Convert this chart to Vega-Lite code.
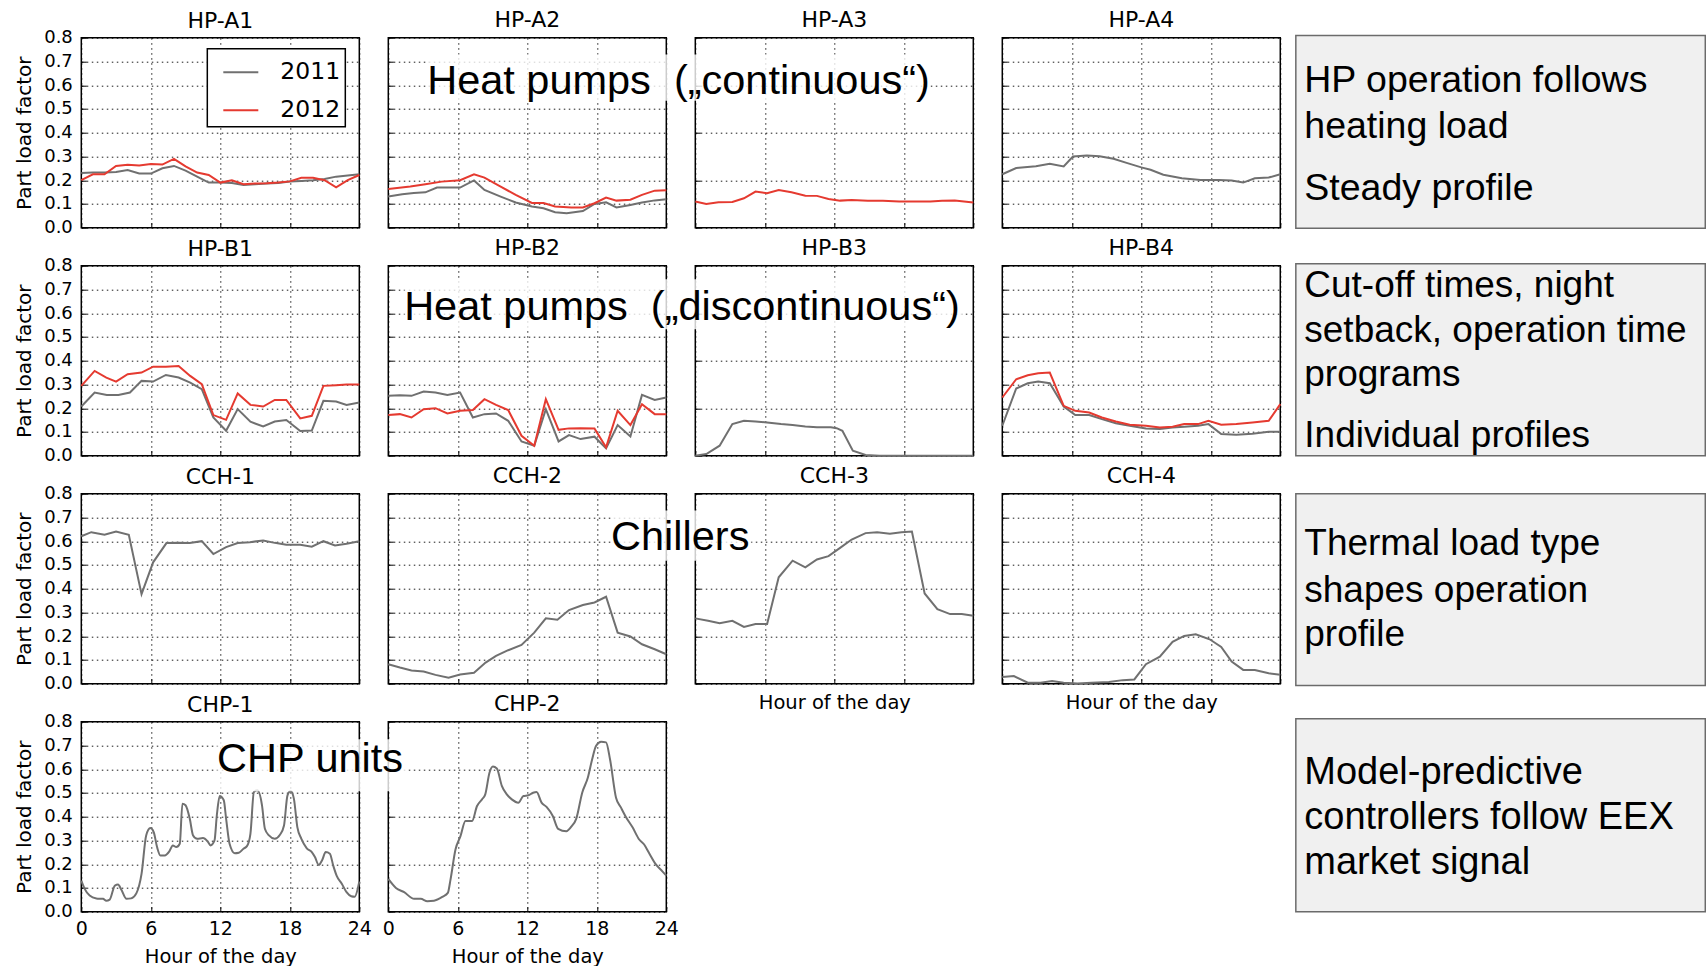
{
"$schema": "https://vega.github.io/schema/vega-lite/v6.json",
"padding": {"left": 13.3, "top": 7.7, "right": 0, "bottom": 0},
"columns": 5,
"spacing": {"row": 38, "column": 29},
"bounds": "flush",
"align": "each",
"config": {
  "font": "DejaVu Sans",
  "view": {"stroke": "#000000", "strokeWidth": 1.5},
  "axis": {"grid": true, "gridColor": "#000000", "gridDash": [1.5, 3.5], "gridWidth": 1, "gridOpacity": 0.9, "domain": false, "ticks": true, "tickSize": -5, "tickColor": "#000000", "tickWidth": 1, "labelFont": "DejaVu Sans", "labelFontSize": 18, "labelColor": "#000000", "labelOverlap": false, "labelFlush": false, "titleFont": "DejaVu Sans", "titleFontSize": 20, "titleFontWeight": "normal", "titleColor": "#000000"},
  "axisX": {"labelPadding": 13, "titlePadding": 9, "labelFontSize": 19, "titleFontSize": 19.5},
  "axisY": {"labelPadding": 14, "titlePadding": 9},
  "title": {"font": "DejaVu Sans", "fontSize": 22, "fontWeight": "normal", "color": "#000000", "offset": 5, "anchor": "middle", "frame": "group"},
  "legend": {"fillColor": "#ffffff", "strokeColor": "#000000", "strokeWidth": 1.5, "padding": 5, "rowPadding": 8, "symbolType": "stroke", "symbolSize": 1225, "symbolStrokeWidth": 2, "symbolOffset": 10, "labelOffset": 21, "labelFont": "DejaVu Sans", "labelFontSize": 23.5, "labelColor": "#000000"}
},
"datasets": {
"hpA1": [
{"year":"2011","hour":0,"load":0.23},{"year":"2011","hour":1,"load":0.232},{"year":"2011","hour":2,"load":0.232},{"year":"2011","hour":3,"load":0.235},{"year":"2011","hour":4,"load":0.243},{"year":"2011","hour":5,"load":0.228},{"year":"2011","hour":6,"load":0.228},{"year":"2011","hour":7,"load":0.25},{"year":"2011","hour":8,"load":0.26},{"year":"2011","hour":9,"load":0.24},{"year":"2011","hour":10,"load":0.215},{"year":"2011","hour":11,"load":0.19},{"year":"2011","hour":12,"load":0.19},{"year":"2011","hour":13,"load":0.188},{"year":"2011","hour":14,"load":0.18},{"year":"2011","hour":15,"load":0.183},{"year":"2011","hour":16,"load":0.186},{"year":"2011","hour":17,"load":0.188},{"year":"2011","hour":18,"load":0.195},{"year":"2011","hour":19,"load":0.197},{"year":"2011","hour":20,"load":0.2},{"year":"2011","hour":21,"load":0.205},{"year":"2011","hour":22,"load":0.215},{"year":"2011","hour":23,"load":0.22},{"year":"2011","hour":24,"load":0.225},
{"year":"2012","hour":0,"load":0.2},{"year":"2012","hour":1,"load":0.225},{"year":"2012","hour":2,"load":0.225},{"year":"2012","hour":3,"load":0.26},{"year":"2012","hour":4,"load":0.265},{"year":"2012","hour":5,"load":0.262},{"year":"2012","hour":6,"load":0.268},{"year":"2012","hour":7,"load":0.266},{"year":"2012","hour":8,"load":0.29},{"year":"2012","hour":9,"load":0.258},{"year":"2012","hour":10,"load":0.232},{"year":"2012","hour":11,"load":0.222},{"year":"2012","hour":12,"load":0.19},{"year":"2012","hour":13,"load":0.2},{"year":"2012","hour":14,"load":0.183},{"year":"2012","hour":15,"load":0.186},{"year":"2012","hour":16,"load":0.187},{"year":"2012","hour":17,"load":0.19},{"year":"2012","hour":18,"load":0.195},{"year":"2012","hour":19,"load":0.21},{"year":"2012","hour":20,"load":0.21},{"year":"2012","hour":21,"load":0.2},{"year":"2012","hour":22,"load":0.17},{"year":"2012","hour":23,"load":0.2},{"year":"2012","hour":24,"load":0.222}
],
"hpA2": [
{"year":"2011","hour":0,"load":0.131},{"year":"2011","hour":1.2,"load":0.141},{"year":"2011","hour":2.2,"load":0.146},{"year":"2011","hour":3.2,"load":0.149},{"year":"2011","hour":4.2,"load":0.169},{"year":"2011","hour":6.2,"load":0.169},{"year":"2011","hour":7.4,"load":0.199},{"year":"2011","hour":8.3,"load":0.159},{"year":"2011","hour":9.7,"load":0.131},{"year":"2011","hour":11,"load":0.106},{"year":"2011","hour":12.4,"load":0.089},{"year":"2011","hour":13.4,"load":0.082},{"year":"2011","hour":14.4,"load":0.065},{"year":"2011","hour":15.4,"load":0.061},{"year":"2011","hour":16.8,"load":0.07},{"year":"2011","hour":17.8,"load":0.1},{"year":"2011","hour":18.8,"load":0.107},{"year":"2011","hour":19.7,"load":0.085},{"year":"2011","hour":20.9,"load":0.096},{"year":"2011","hour":21.9,"load":0.106},{"year":"2011","hour":23,"load":0.115},{"year":"2011","hour":24,"load":0.12},
{"year":"2012","hour":0,"load":0.163},{"year":"2012","hour":1.9,"load":0.173},{"year":"2012","hour":3.2,"load":0.183},{"year":"2012","hour":4.6,"load":0.194},{"year":"2012","hour":6.2,"load":0.2},{"year":"2012","hour":7.4,"load":0.225},{"year":"2012","hour":8.3,"load":0.211},{"year":"2012","hour":9.7,"load":0.173},{"year":"2012","hour":11,"load":0.138},{"year":"2012","hour":12.4,"load":0.104},{"year":"2012","hour":13.4,"load":0.104},{"year":"2012","hour":14.4,"load":0.089},{"year":"2012","hour":15.8,"load":0.085},{"year":"2012","hour":16.8,"load":0.085},{"year":"2012","hour":17.8,"load":0.103},{"year":"2012","hour":18.8,"load":0.127},{"year":"2012","hour":19.7,"load":0.114},{"year":"2012","hour":20.9,"load":0.118},{"year":"2012","hour":21.9,"load":0.138},{"year":"2012","hour":23,"load":0.156},{"year":"2012","hour":24,"load":0.158}
],
"hpA3": [
{"year":"2012","hour":0,"load":0.11},{"year":"2012","hour":0.95,"load":0.1},{"year":"2012","hour":2,"load":0.107},{"year":"2012","hour":3.2,"load":0.108},{"year":"2012","hour":4.2,"load":0.124},{"year":"2012","hour":5.2,"load":0.152},{"year":"2012","hour":6.2,"load":0.145},{"year":"2012","hour":7.2,"load":0.159},{"year":"2012","hour":8.3,"load":0.149},{"year":"2012","hour":9.5,"load":0.135},{"year":"2012","hour":10.5,"load":0.134},{"year":"2012","hour":11.5,"load":0.121},{"year":"2012","hour":12.5,"load":0.114},{"year":"2012","hour":13.5,"load":0.117},{"year":"2012","hour":14.9,"load":0.113},{"year":"2012","hour":16.2,"load":0.113},{"year":"2012","hour":17.6,"load":0.11},{"year":"2012","hour":19,"load":0.11},{"year":"2012","hour":20.3,"load":0.11},{"year":"2012","hour":21.3,"load":0.113},{"year":"2012","hour":22.4,"load":0.115},{"year":"2012","hour":24,"load":0.106}
],
"hpA4": [
{"year":"2011","hour":0,"load":0.225},{"year":"2011","hour":1.2,"load":0.251},{"year":"2011","hour":2.9,"load":0.259},{"year":"2011","hour":4.1,"load":0.269},{"year":"2011","hour":5.3,"load":0.258},{"year":"2011","hour":6.1,"load":0.3},{"year":"2011","hour":7.3,"load":0.304},{"year":"2011","hour":8.4,"load":0.301},{"year":"2011","hour":9.6,"load":0.29},{"year":"2011","hour":10.8,"load":0.272},{"year":"2011","hour":12,"load":0.254},{"year":"2011","hour":12.8,"load":0.244},{"year":"2011","hour":13.9,"load":0.223},{"year":"2011","hour":15.5,"load":0.208},{"year":"2011","hour":17.1,"load":0.201},{"year":"2011","hour":18.7,"load":0.201},{"year":"2011","hour":19.8,"load":0.199},{"year":"2011","hour":20.8,"load":0.19},{"year":"2011","hour":21.8,"load":0.208},{"year":"2011","hour":23,"load":0.211},{"year":"2011","hour":24,"load":0.225}
],
"hpB1": [
{"year":"2011","hour":0,"load":0.207},{"year":"2011","hour":1.15,"load":0.266},{"year":"2011","hour":2.2,"load":0.256},{"year":"2011","hour":3.2,"load":0.256},{"year":"2011","hour":4.2,"load":0.266},{"year":"2011","hour":5.2,"load":0.315},{"year":"2011","hour":6.2,"load":0.312},{"year":"2011","hour":7.3,"load":0.34},{"year":"2011","hour":8.4,"load":0.329},{"year":"2011","hour":9.4,"load":0.308},{"year":"2011","hour":10.4,"load":0.28},{"year":"2011","hour":11.4,"load":0.161},{"year":"2011","hour":12.5,"load":0.105},{"year":"2011","hour":13.5,"load":0.196},{"year":"2011","hour":14.6,"load":0.143},{"year":"2011","hour":15.7,"load":0.123},{"year":"2011","hour":16.7,"load":0.144},{"year":"2011","hour":17.7,"load":0.15},{"year":"2011","hour":18.9,"load":0.104},{"year":"2011","hour":19.9,"load":0.106},{"year":"2011","hour":20.9,"load":0.231},{"year":"2011","hour":22,"load":0.228},{"year":"2011","hour":22.9,"load":0.214},{"year":"2011","hour":24,"load":0.224},
{"year":"2012","hour":0,"load":0.294},{"year":"2012","hour":1.15,"load":0.357},{"year":"2012","hour":2.16,"load":0.329},{"year":"2012","hour":3,"load":0.312},{"year":"2012","hour":4,"load":0.343},{"year":"2012","hour":5.2,"load":0.35},{"year":"2012","hour":6.2,"load":0.375},{"year":"2012","hour":7.3,"load":0.375},{"year":"2012","hour":8.4,"load":0.378},{"year":"2012","hour":9.4,"load":0.336},{"year":"2012","hour":10.4,"load":0.301},{"year":"2012","hour":11.4,"load":0.171},{"year":"2012","hour":12.5,"load":0.151},{"year":"2012","hour":13.5,"load":0.262},{"year":"2012","hour":14.6,"load":0.214},{"year":"2012","hour":15.7,"load":0.207},{"year":"2012","hour":16.7,"load":0.235},{"year":"2012","hour":17.7,"load":0.235},{"year":"2012","hour":18.9,"load":0.157},{"year":"2012","hour":19.9,"load":0.168},{"year":"2012","hour":20.9,"load":0.294},{"year":"2012","hour":22,"load":0.297},{"year":"2012","hour":22.9,"load":0.3},{"year":"2012","hour":24,"load":0.3}
],
"hpB2": [
{"year":"2011","hour":0,"load":0.252},{"year":"2011","hour":1,"load":0.255},{"year":"2011","hour":2,"load":0.252},{"year":"2011","hour":3.05,"load":0.27},{"year":"2011","hour":4.07,"load":0.266},{"year":"2011","hour":5.1,"load":0.256},{"year":"2011","hour":6.2,"load":0.266},{"year":"2011","hour":7.3,"load":0.161},{"year":"2011","hour":8.3,"load":0.175},{"year":"2011","hour":9.3,"load":0.178},{"year":"2011","hour":10.35,"load":0.147},{"year":"2011","hour":11.5,"load":0.06},{"year":"2011","hour":12.6,"load":0.042},{"year":"2011","hour":13.6,"load":0.196},{"year":"2011","hour":14.7,"load":0.06},{"year":"2011","hour":15.6,"load":0.087},{"year":"2011","hour":16.6,"load":0.07},{"year":"2011","hour":17.8,"load":0.08},{"year":"2011","hour":18.8,"load":0.031},{"year":"2011","hour":19.8,"load":0.129},{"year":"2011","hour":20.9,"load":0.081},{"year":"2011","hour":21.9,"load":0.256},{"year":"2011","hour":23,"load":0.235},{"year":"2011","hour":24,"load":0.245},
{"year":"2012","hour":0,"load":0.171},{"year":"2012","hour":1,"load":0.175},{"year":"2012","hour":2,"load":0.161},{"year":"2012","hour":3.05,"load":0.196},{"year":"2012","hour":4.07,"load":0.2},{"year":"2012","hour":5.1,"load":0.178},{"year":"2012","hour":6.2,"load":0.189},{"year":"2012","hour":7.3,"load":0.192},{"year":"2012","hour":8.3,"load":0.238},{"year":"2012","hour":9.3,"load":0.214},{"year":"2012","hour":10.35,"load":0.192},{"year":"2012","hour":11.5,"load":0.084},{"year":"2012","hour":12.6,"load":0.042},{"year":"2012","hour":13.6,"load":0.238},{"year":"2012","hour":14.7,"load":0.109},{"year":"2012","hour":15.6,"load":0.115},{"year":"2012","hour":16.6,"load":0.116},{"year":"2012","hour":17.8,"load":0.115},{"year":"2012","hour":18.8,"load":0.035},{"year":"2012","hour":19.8,"load":0.189},{"year":"2012","hour":20.9,"load":0.129},{"year":"2012","hour":21.9,"load":0.217},{"year":"2012","hour":23,"load":0.175},{"year":"2012","hour":24,"load":0.175}
],
"hpB3": [
{"year":"2011","hour":0,"load":0},{"year":"2011","hour":0.95,"load":0.007},{"year":"2011","hour":2.1,"load":0.042},{"year":"2011","hour":3.2,"load":0.133},{"year":"2011","hour":4.2,"load":0.147},{"year":"2011","hour":5.2,"load":0.144},{"year":"2011","hour":6.2,"load":0.14},{"year":"2011","hour":7.4,"load":0.133},{"year":"2011","hour":8.4,"load":0.129},{"year":"2011","hour":9.5,"load":0.123},{"year":"2011","hour":10.5,"load":0.12},{"year":"2011","hour":11.7,"load":0.12},{"year":"2011","hour":12.2,"load":0.116},{"year":"2011","hour":12.7,"load":0.105},{"year":"2011","hour":13.6,"load":0.021},{"year":"2011","hour":14.7,"load":0.003},{"year":"2011","hour":15.9,"load":0},{"year":"2011","hour":20,"load":0},{"year":"2011","hour":24,"load":0}
],
"hpB4": [
{"year":"2011","hour":0,"load":0.126},{"year":"2011","hour":1.2,"load":0.283},{"year":"2011","hour":2.2,"load":0.305},{"year":"2011","hour":3.1,"load":0.312},{"year":"2011","hour":4.1,"load":0.305},{"year":"2011","hour":5.3,"load":0.207},{"year":"2011","hour":6.3,"load":0.171},{"year":"2011","hour":7.5,"load":0.171},{"year":"2011","hour":8.6,"load":0.154},{"year":"2011","hour":9.8,"load":0.137},{"year":"2011","hour":11,"load":0.126},{"year":"2011","hour":12.4,"load":0.115},{"year":"2011","hour":13.6,"load":0.112},{"year":"2011","hour":14.7,"load":0.119},{"year":"2011","hour":15.7,"load":0.122},{"year":"2011","hour":16.9,"load":0.126},{"year":"2011","hour":17.8,"load":0.133},{"year":"2011","hour":18.9,"load":0.091},{"year":"2011","hour":20.2,"load":0.088},{"year":"2011","hour":21.6,"load":0.092},{"year":"2011","hour":23,"load":0.101},{"year":"2011","hour":24,"load":0.101},
{"year":"2012","hour":0,"load":0.245},{"year":"2012","hour":1.2,"load":0.322},{"year":"2012","hour":2.2,"load":0.339},{"year":"2012","hour":3.1,"load":0.347},{"year":"2012","hour":4.1,"load":0.35},{"year":"2012","hour":5.3,"load":0.21},{"year":"2012","hour":6.3,"load":0.189},{"year":"2012","hour":7.5,"load":0.182},{"year":"2012","hour":8.6,"load":0.161},{"year":"2012","hour":9.8,"load":0.144},{"year":"2012","hour":11,"load":0.13},{"year":"2012","hour":12.4,"load":0.126},{"year":"2012","hour":13.6,"load":0.119},{"year":"2012","hour":14.7,"load":0.122},{"year":"2012","hour":15.7,"load":0.133},{"year":"2012","hour":16.9,"load":0.133},{"year":"2012","hour":17.8,"load":0.147},{"year":"2012","hour":18.9,"load":0.13},{"year":"2012","hour":20.2,"load":0.133},{"year":"2012","hour":21.6,"load":0.14},{"year":"2012","hour":23,"load":0.147},{"year":"2012","hour":24,"load":0.217}
],
"cch1": [
{"year":"2011","hour":0,"load":0.621},{"year":"2011","hour":0.86,"load":0.638},{"year":"2011","hour":2,"load":0.627},{"year":"2011","hour":3,"load":0.641},{"year":"2011","hour":4.1,"load":0.627},{"year":"2011","hour":5.2,"load":0.377},{"year":"2011","hour":6.2,"load":0.511},{"year":"2011","hour":7.35,"load":0.592},{"year":"2011","hour":8.35,"load":0.593},{"year":"2011","hour":9.36,"load":0.592},{"year":"2011","hour":10.4,"load":0.6},{"year":"2011","hour":11.4,"load":0.546},{"year":"2011","hour":12.5,"load":0.575},{"year":"2011","hour":13.5,"load":0.592},{"year":"2011","hour":14.55,"load":0.596},{"year":"2011","hour":15.7,"load":0.603},{"year":"2011","hour":16.7,"load":0.593},{"year":"2011","hour":17.7,"load":0.585},{"year":"2011","hour":18.9,"load":0.585},{"year":"2011","hour":19.9,"load":0.577},{"year":"2011","hour":20.9,"load":0.6},{"year":"2011","hour":21.9,"load":0.582},{"year":"2011","hour":22.9,"load":0.589},{"year":"2011","hour":24,"load":0.6}
],
"cch2": [
{"year":"2011","hour":0,"load":0.082},{"year":"2011","hour":1,"load":0.068},{"year":"2011","hour":2,"load":0.056},{"year":"2011","hour":3.05,"load":0.051},{"year":"2011","hour":4.07,"load":0.037},{"year":"2011","hour":5.2,"load":0.025},{"year":"2011","hour":6.2,"load":0.039},{"year":"2011","hour":7.4,"load":0.046},{"year":"2011","hour":8.4,"load":0.089},{"year":"2011","hour":9.3,"load":0.117},{"year":"2011","hour":10.35,"load":0.141},{"year":"2011","hour":11.5,"load":0.163},{"year":"2011","hour":12.6,"load":0.215},{"year":"2011","hour":13.6,"load":0.275},{"year":"2011","hour":14.6,"load":0.269},{"year":"2011","hour":15.6,"load":0.31},{"year":"2011","hour":16.8,"load":0.331},{"year":"2011","hour":17.8,"load":0.342},{"year":"2011","hour":18.8,"load":0.366},{"year":"2011","hour":19.8,"load":0.215},{"year":"2011","hour":20.9,"load":0.199},{"year":"2011","hour":21.9,"load":0.166},{"year":"2011","hour":23,"load":0.145},{"year":"2011","hour":24,"load":0.124}
],
"cch3": [
{"year":"2011","hour":0,"load":0.275},{"year":"2011","hour":1.1,"load":0.265},{"year":"2011","hour":2.1,"load":0.255},{"year":"2011","hour":3.2,"load":0.265},{"year":"2011","hour":4.2,"load":0.239},{"year":"2011","hour":5.2,"load":0.251},{"year":"2011","hour":6.2,"load":0.251},{"year":"2011","hour":7.2,"load":0.448},{"year":"2011","hour":8.4,"load":0.518},{"year":"2011","hour":9.5,"load":0.49},{"year":"2011","hour":10.5,"load":0.523},{"year":"2011","hour":11.5,"load":0.537},{"year":"2011","hour":12.5,"load":0.572},{"year":"2011","hour":13.5,"load":0.607},{"year":"2011","hour":14.7,"load":0.634},{"year":"2011","hour":15.7,"load":0.638},{"year":"2011","hour":16.8,"load":0.631},{"year":"2011","hour":17.8,"load":0.638},{"year":"2011","hour":18.7,"load":0.641},{"year":"2011","hour":19.8,"load":0.38},{"year":"2011","hour":20.9,"load":0.314},{"year":"2011","hour":22,"load":0.293},{"year":"2011","hour":23,"load":0.293},{"year":"2011","hour":24,"load":0.286}
],
"cch4": [
{"year":"2011","hour":0,"load":0.028},{"year":"2011","hour":1,"load":0.032},{"year":"2011","hour":2.2,"load":0.004},{"year":"2011","hour":3.3,"load":0.004},{"year":"2011","hour":4.3,"load":0.011},{"year":"2011","hour":5.3,"load":0.004},{"year":"2011","hour":6.5,"load":0.001},{"year":"2011","hour":7.7,"load":0.004},{"year":"2011","hour":9.2,"load":0.007},{"year":"2011","hour":10.4,"load":0.015},{"year":"2011","hour":11.4,"load":0.018},{"year":"2011","hour":12.4,"load":0.082},{"year":"2011","hour":13.6,"load":0.114},{"year":"2011","hour":14.7,"load":0.176},{"year":"2011","hour":15.7,"load":0.201},{"year":"2011","hour":16.7,"load":0.208},{"year":"2011","hour":17.9,"load":0.187},{"year":"2011","hour":18.9,"load":0.155},{"year":"2011","hour":19.8,"load":0.093},{"year":"2011","hour":20.8,"load":0.058},{"year":"2011","hour":21.8,"load":0.058},{"year":"2011","hour":23,"load":0.044},{"year":"2011","hour":24,"load":0.038}
],
"chp1": [
{"year":"2011","hour":0,"load":0.131},{"year":"2011","hour":0.29,"load":0.096},{"year":"2011","hour":0.72,"load":0.068},{"year":"2011","hour":1.3,"load":0.056},{"year":"2011","hour":1.87,"load":0.054},{"year":"2011","hour":2.16,"load":0.046},{"year":"2011","hour":2.45,"load":0.051},{"year":"2011","hour":2.9,"load":0.11},{"year":"2011","hour":3.17,"load":0.114},{"year":"2011","hour":3.46,"load":0.092},{"year":"2011","hour":3.9,"load":0.054},{"year":"2011","hour":4.3,"load":0.056},{"year":"2011","hour":4.75,"load":0.077},{"year":"2011","hour":5.2,"load":0.159},{"year":"2011","hour":5.6,"load":0.321},{"year":"2011","hour":5.96,"load":0.352},{"year":"2011","hour":6.25,"load":0.335},{"year":"2011","hour":6.54,"load":0.272},{"year":"2011","hour":6.83,"load":0.237},{"year":"2011","hour":7.2,"load":0.237},{"year":"2011","hour":7.6,"load":0.254},{"year":"2011","hour":7.9,"load":0.279},{"year":"2011","hour":8.2,"load":0.272},{"year":"2011","hour":8.5,"load":0.286},{"year":"2011","hour":8.73,"load":0.455},{"year":"2011","hour":9,"load":0.448},{"year":"2011","hour":9.36,"load":0.392},{"year":"2011","hour":9.65,"load":0.321},{"year":"2011","hour":10,"load":0.307},{"year":"2011","hour":10.5,"load":0.31},{"year":"2011","hour":10.95,"load":0.293},{"year":"2011","hour":11.15,"load":0.279},{"year":"2011","hour":11.5,"load":0.3},{"year":"2011","hour":11.7,"load":0.406},{"year":"2011","hour":11.95,"load":0.487},{"year":"2011","hour":12.3,"load":0.469},{"year":"2011","hour":12.5,"load":0.392},{"year":"2011","hour":12.8,"load":0.286},{"year":"2011","hour":13.25,"load":0.246},{"year":"2011","hour":13.6,"load":0.248},{"year":"2011","hour":14,"load":0.265},{"year":"2011","hour":14.3,"load":0.276},{"year":"2011","hour":14.6,"load":0.328},{"year":"2011","hour":14.9,"load":0.504},{"year":"2011","hour":15.2,"load":0.511},{"year":"2011","hour":15.6,"load":0.448},{"year":"2011","hour":15.85,"load":0.349},{"year":"2011","hour":16.2,"load":0.321},{"year":"2011","hour":16.7,"load":0.307},{"year":"2011","hour":17.15,"load":0.324},{"year":"2011","hour":17.5,"load":0.363},{"year":"2011","hour":17.8,"load":0.49},{"year":"2011","hour":18.07,"load":0.508},{"year":"2011","hour":18.35,"load":0.476},{"year":"2011","hour":18.65,"load":0.356},{"year":"2011","hour":19,"load":0.307},{"year":"2011","hour":19.45,"load":0.268},{"year":"2011","hour":19.9,"load":0.251},{"year":"2011","hour":20.17,"load":0.23},{"year":"2011","hour":20.5,"load":0.197},{"year":"2011","hour":20.8,"load":0.218},{"year":"2011","hour":21.1,"load":0.251},{"year":"2011","hour":21.46,"load":0.244},{"year":"2011","hour":21.75,"load":0.194},{"year":"2011","hour":22.04,"load":0.152},{"year":"2011","hour":22.5,"load":0.117},{"year":"2011","hour":22.9,"load":0.082},{"year":"2011","hour":23.3,"load":0.065},{"year":"2011","hour":23.6,"load":0.063},{"year":"2011","hour":24,"load":0.127}
],
"chp2": [
{"year":"2011","hour":0,"load":0.138},{"year":"2011","hour":0.66,"load":0.1},{"year":"2011","hour":1.37,"load":0.082},{"year":"2011","hour":2.23,"load":0.054},{"year":"2011","hour":2.8,"load":0.054},{"year":"2011","hour":3.37,"load":0.044},{"year":"2011","hour":3.94,"load":0.046},{"year":"2011","hour":4.66,"load":0.062},{"year":"2011","hour":5.14,"load":0.079},{"year":"2011","hour":5.37,"load":0.135},{"year":"2011","hour":5.8,"load":0.262},{"year":"2011","hour":6.23,"load":0.318},{"year":"2011","hour":6.66,"load":0.382},{"year":"2011","hour":7,"load":0.382},{"year":"2011","hour":7.23,"load":0.382},{"year":"2011","hour":7.66,"load":0.445},{"year":"2011","hour":8.09,"load":0.473},{"year":"2011","hour":8.37,"load":0.494},{"year":"2011","hour":8.74,"load":0.586},{"year":"2011","hour":9.03,"load":0.611},{"year":"2011","hour":9.37,"load":0.603},{"year":"2011","hour":9.8,"load":0.53},{"year":"2011","hour":10.23,"load":0.494},{"year":"2011","hour":10.66,"load":0.473},{"year":"2011","hour":11.23,"load":0.459},{"year":"2011","hour":11.66,"load":0.487},{"year":"2011","hour":12.09,"load":0.49},{"year":"2011","hour":12.5,"load":0.501},{"year":"2011","hour":12.8,"load":0.504},{"year":"2011","hour":13.23,"load":0.459},{"year":"2011","hour":13.66,"load":0.441},{"year":"2011","hour":14.2,"load":0.403},{"year":"2011","hour":14.66,"load":0.349},{"year":"2011","hour":15.37,"load":0.339},{"year":"2011","hour":15.8,"load":0.358},{"year":"2011","hour":16.23,"load":0.392},{"year":"2011","hour":16.74,"load":0.501},{"year":"2011","hour":17.23,"load":0.565},{"year":"2011","hour":17.6,"load":0.642},{"year":"2011","hour":17.94,"load":0.699},{"year":"2011","hour":18.37,"load":0.716},{"year":"2011","hour":18.8,"load":0.713},{"year":"2011","hour":19.14,"load":0.642},{"year":"2011","hour":19.66,"load":0.48},{"year":"2011","hour":20.09,"load":0.438},{"year":"2011","hour":20.5,"load":0.4},{"year":"2011","hour":21.1,"load":0.354},{"year":"2011","hour":21.66,"load":0.304},{"year":"2011","hour":22.09,"load":0.283},{"year":"2011","hour":22.5,"load":0.248},{"year":"2011","hour":23.1,"load":0.199},{"year":"2011","hour":23.66,"load":0.17},{"year":"2011","hour":24,"load":0.152}
]
},
"concat": [
{"title":{"text":"HP-A1","offset":-4},"width":278,"height":190,"data":{"name":"hpA1"},"mark":{"type":"line","strokeWidth":2},"encoding":{"x":{"field":"hour","type":"quantitative","scale":{"domain":[0,24],"nice":false,"zero":false},"axis":{"values":[0,6,12,18,24],"labels":false,"title":null}},"y":{"field":"load","type":"quantitative","scale":{"domain":[0,0.8],"nice":false},"axis":{"values":[0,0.1,0.2,0.3,0.4,0.5,0.6,0.7,0.8],"format":".1f","title":"Part load factor"}},"color":{"field":"year","type":"nominal","scale":{"domain":["2011","2012"],"range":["#707070","#e53a30"]},"legend":{"title":null,"orient":"none","legendX":126,"legendY":11}}}},
{"title":"HP-A2","width":278,"height":190,"data":{"name":"hpA2"},"mark":{"type":"line","strokeWidth":2},"encoding":{"x":{"field":"hour","type":"quantitative","scale":{"domain":[0,24],"nice":false,"zero":false},"axis":{"values":[0,6,12,18,24],"labels":false,"title":null}},"y":{"field":"load","type":"quantitative","scale":{"domain":[0,0.8],"nice":false},"axis":{"values":[0,0.1,0.2,0.3,0.4,0.5,0.6,0.7,0.8],"labels":false,"title":null}},"color":{"field":"year","type":"nominal","scale":{"domain":["2011","2012"],"range":["#707070","#e53a30"]},"legend":{"title":null,"orient":"none","legendX":126,"legendY":11}}}},
{"title":"HP-A3","width":278,"height":190,"layer":[
 {"data":{"name":"hpA3"},"mark":{"type":"line","strokeWidth":2},"encoding":{"x":{"field":"hour","type":"quantitative","scale":{"domain":[0,24],"nice":false,"zero":false},"axis":{"values":[0,6,12,18,24],"labels":false,"title":null}},"y":{"field":"load","type":"quantitative","scale":{"domain":[0,0.8],"nice":false},"axis":{"values":[0,0.1,0.2,0.3,0.4,0.5,0.6,0.7,0.8],"labels":false,"title":null}},"color":{"field":"year","type":"nominal","scale":{"domain":["2011","2012"],"range":["#707070","#e53a30"]},"legend":{"title":null,"orient":"none","legendX":126,"legendY":11}}}},
 {"data":{"values":[{}]},"mark":{"type":"rect","fill":"#ffffff","opacity":0.8},"encoding":{"x":{"datum":-23.05,"type":"quantitative"},"x2":{"datum":20.29},"y":{"datum":0.535,"type":"quantitative"},"y2":{"datum":0.729}}},
 {"data":{"values":[{}]},"mark":{"type":"text","font":"Liberation Sans","fontSize":41.5,"align":"center","baseline":"alphabetic","color":"#000000"},"encoding":{"x":{"datum":-1.45,"type":"quantitative"},"y":{"datum":0.5635,"type":"quantitative"},"text":{"value":"Heat pumps \u00a0(„continuous“)"}}}
]},
{"title":"HP-A4","width":278,"height":190,"data":{"name":"hpA4"},"mark":{"type":"line","strokeWidth":2},"encoding":{"x":{"field":"hour","type":"quantitative","scale":{"domain":[0,24],"nice":false,"zero":false},"axis":{"values":[0,6,12,18,24],"labels":false,"title":null}},"y":{"field":"load","type":"quantitative","scale":{"domain":[0,0.8],"nice":false},"axis":{"values":[0,0.1,0.2,0.3,0.4,0.5,0.6,0.7,0.8],"labels":false,"title":null}},"color":{"field":"year","type":"nominal","scale":{"domain":["2011","2012"],"range":["#707070","#e53a30"]},"legend":{"title":null,"orient":"none","legendX":126,"legendY":11}}}},
{"width":396,"height":190,"view":{"stroke":null},"data":{"values":[{}]},"layer":[
 {"mark":{"type":"rect","fill":"#f0f0f0","stroke":"#6b6b6b","strokeWidth":1.5},"encoding":{"x":{"datum":-0.034,"type":"quantitative","scale":{"domain":[0,1],"nice":false,"zero":false},"axis":null},"x2":{"datum":1},"y":{"datum":-0.003,"type":"quantitative","scale":{"domain":[0,1],"nice":false,"zero":false},"axis":null},"y2":{"datum":1.012}}},
 {"mark":{"type":"text","font":"Liberation Sans","fontSize":37.5,"align":"left","baseline":"alphabetic","color":"#000000"},"encoding":{"x":{"datum":-0.0126,"type":"quantitative"},"y":{"datum":0.712,"type":"quantitative"},"text":{"value":"HP operation follows"}}},
 {"mark":{"type":"text","font":"Liberation Sans","fontSize":37.5,"align":"left","baseline":"alphabetic","color":"#000000"},"encoding":{"x":{"datum":-0.0126,"type":"quantitative"},"y":{"datum":0.473,"type":"quantitative"},"text":{"value":"heating load"}}},
 {"mark":{"type":"text","font":"Liberation Sans","fontSize":37.5,"align":"left","baseline":"alphabetic","color":"#000000"},"encoding":{"x":{"datum":-0.0126,"type":"quantitative"},"y":{"datum":0.146,"type":"quantitative"},"text":{"value":"Steady profile"}}}
]},
{"title":{"text":"HP-B1","offset":-4},"width":278,"height":190,"data":{"name":"hpB1"},"mark":{"type":"line","strokeWidth":2},"encoding":{"x":{"field":"hour","type":"quantitative","scale":{"domain":[0,24],"nice":false,"zero":false},"axis":{"values":[0,6,12,18,24],"labels":false,"title":null}},"y":{"field":"load","type":"quantitative","scale":{"domain":[0,0.8],"nice":false},"axis":{"values":[0,0.1,0.2,0.3,0.4,0.5,0.6,0.7,0.8],"format":".1f","title":"Part load factor"}},"color":{"field":"year","type":"nominal","scale":{"domain":["2011","2012"],"range":["#707070","#e53a30"]},"legend":{"title":null,"orient":"none","legendX":126,"legendY":11}}}},
{"title":"HP-B2","width":278,"height":190,"data":{"name":"hpB2"},"mark":{"type":"line","strokeWidth":2},"encoding":{"x":{"field":"hour","type":"quantitative","scale":{"domain":[0,24],"nice":false,"zero":false},"axis":{"values":[0,6,12,18,24],"labels":false,"title":null}},"y":{"field":"load","type":"quantitative","scale":{"domain":[0,0.8],"nice":false},"axis":{"values":[0,0.1,0.2,0.3,0.4,0.5,0.6,0.7,0.8],"labels":false,"title":null}},"color":{"field":"year","type":"nominal","scale":{"domain":["2011","2012"],"range":["#707070","#e53a30"]},"legend":{"title":null,"orient":"none","legendX":126,"legendY":11}}}},
{"title":"HP-B3","width":278,"height":190,"layer":[
 {"data":{"name":"hpB3"},"mark":{"type":"line","strokeWidth":2},"encoding":{"x":{"field":"hour","type":"quantitative","scale":{"domain":[0,24],"nice":false,"zero":false},"axis":{"values":[0,6,12,18,24],"labels":false,"title":null}},"y":{"field":"load","type":"quantitative","scale":{"domain":[0,0.8],"nice":false},"axis":{"values":[0,0.1,0.2,0.3,0.4,0.5,0.6,0.7,0.8],"labels":false,"title":null}},"color":{"field":"year","type":"nominal","scale":{"domain":["2011","2012"],"range":["#707070","#e53a30"]},"legend":{"title":null,"orient":"none","legendX":126,"legendY":11}}}},
 {"data":{"values":[{}]},"mark":{"type":"rect","fill":"#ffffff","opacity":0.8},"encoding":{"x":{"datum":-25.1,"type":"quantitative"},"x2":{"datum":23.05},"y":{"datum":0.532,"type":"quantitative"},"y2":{"datum":0.743}}},
 {"data":{"values":[{}]},"mark":{"type":"text","font":"Liberation Sans","fontSize":41.5,"align":"center","baseline":"alphabetic","color":"#000000"},"encoding":{"x":{"datum":-1.15,"type":"quantitative"},"y":{"datum":0.571,"type":"quantitative"},"text":{"value":"Heat pumps \u00a0(„discontinuous“)"}}}
]},
{"title":"HP-B4","width":278,"height":190,"data":{"name":"hpB4"},"mark":{"type":"line","strokeWidth":2},"encoding":{"x":{"field":"hour","type":"quantitative","scale":{"domain":[0,24],"nice":false,"zero":false},"axis":{"values":[0,6,12,18,24],"labels":false,"title":null}},"y":{"field":"load","type":"quantitative","scale":{"domain":[0,0.8],"nice":false},"axis":{"values":[0,0.1,0.2,0.3,0.4,0.5,0.6,0.7,0.8],"labels":false,"title":null}},"color":{"field":"year","type":"nominal","scale":{"domain":["2011","2012"],"range":["#707070","#e53a30"]},"legend":{"title":null,"orient":"none","legendX":126,"legendY":11}}}},
{"width":396,"height":190,"view":{"stroke":null},"data":{"values":[{}]},"layer":[
 {"mark":{"type":"rect","fill":"#f0f0f0","stroke":"#6b6b6b","strokeWidth":1.5},"encoding":{"x":{"datum":-0.034,"type":"quantitative","scale":{"domain":[0,1],"nice":false,"zero":false},"axis":null},"x2":{"datum":1},"y":{"datum":0,"type":"quantitative","scale":{"domain":[0,1],"nice":false,"zero":false},"axis":null},"y2":{"datum":1.01}}},
 {"mark":{"type":"text","font":"Liberation Sans","fontSize":37,"align":"left","baseline":"alphabetic","color":"#000000"},"encoding":{"x":{"datum":-0.0126,"type":"quantitative"},"y":{"datum":0.833,"type":"quantitative"},"text":{"value":"Cut-off times, night"}}},
 {"mark":{"type":"text","font":"Liberation Sans","fontSize":37,"align":"left","baseline":"alphabetic","color":"#000000"},"encoding":{"x":{"datum":-0.0126,"type":"quantitative"},"y":{"datum":0.6,"type":"quantitative"},"text":{"value":"setback, operation time"}}},
 {"mark":{"type":"text","font":"Liberation Sans","fontSize":37,"align":"left","baseline":"alphabetic","color":"#000000"},"encoding":{"x":{"datum":-0.0126,"type":"quantitative"},"y":{"datum":0.367,"type":"quantitative"},"text":{"value":"programs"}}},
 {"mark":{"type":"text","font":"Liberation Sans","fontSize":37,"align":"left","baseline":"alphabetic","color":"#000000"},"encoding":{"x":{"datum":-0.0126,"type":"quantitative"},"y":{"datum":0.0437,"type":"quantitative"},"text":{"value":"Individual profiles"}}}
]},
{"title":{"text":"CCH-1","offset":-4},"width":278,"height":190,"data":{"name":"cch1"},"mark":{"type":"line","strokeWidth":2},"encoding":{"x":{"field":"hour","type":"quantitative","scale":{"domain":[0,24],"nice":false,"zero":false},"axis":{"values":[0,6,12,18,24],"labels":false,"title":null}},"y":{"field":"load","type":"quantitative","scale":{"domain":[0,0.8],"nice":false},"axis":{"values":[0,0.1,0.2,0.3,0.4,0.5,0.6,0.7,0.8],"format":".1f","title":"Part load factor"}},"color":{"field":"year","type":"nominal","scale":{"domain":["2011","2012"],"range":["#707070","#e53a30"]},"legend":{"title":null,"orient":"none","legendX":126,"legendY":11}}}},
{"title":"CCH-2","width":278,"height":190,"data":{"name":"cch2"},"mark":{"type":"line","strokeWidth":2},"encoding":{"x":{"field":"hour","type":"quantitative","scale":{"domain":[0,24],"nice":false,"zero":false},"axis":{"values":[0,6,12,18,24],"labels":false,"title":null}},"y":{"field":"load","type":"quantitative","scale":{"domain":[0,0.8],"nice":false},"axis":{"values":[0,0.1,0.2,0.3,0.4,0.5,0.6,0.7,0.8],"labels":false,"title":null}},"color":{"field":"year","type":"nominal","scale":{"domain":["2011","2012"],"range":["#707070","#e53a30"]},"legend":{"title":null,"orient":"none","legendX":126,"legendY":11}}}},
{"title":"CCH-3","width":278,"height":190,"layer":[
 {"data":{"name":"cch3"},"mark":{"type":"line","strokeWidth":2},"encoding":{"x":{"field":"hour","type":"quantitative","scale":{"domain":[0,24],"nice":false,"zero":false},"axis":{"values":[0,6,12,18,24],"labels":false,"title":"Hour of the day"}},"y":{"field":"load","type":"quantitative","scale":{"domain":[0,0.8],"nice":false},"axis":{"values":[0,0.1,0.2,0.3,0.4,0.5,0.6,0.7,0.8],"labels":false,"title":null}},"color":{"field":"year","type":"nominal","scale":{"domain":["2011","2012"],"range":["#707070","#e53a30"]},"legend":{"title":null,"orient":"none","legendX":126,"legendY":11}}}},
 {"data":{"values":[{}]},"mark":{"type":"rect","fill":"#ffffff","opacity":0.8},"encoding":{"x":{"datum":-7.25,"type":"quantitative"},"x2":{"datum":4.83},"y":{"datum":0.518,"type":"quantitative"},"y2":{"datum":0.729}}},
 {"data":{"values":[{}]},"mark":{"type":"text","font":"Liberation Sans","fontSize":41.5,"align":"center","baseline":"alphabetic","color":"#000000"},"encoding":{"x":{"datum":-1.3,"type":"quantitative"},"y":{"datum":0.5635,"type":"quantitative"},"text":{"value":"Chillers"}}}
]},
{"title":"CCH-4","width":278,"height":190,"data":{"name":"cch4"},"mark":{"type":"line","strokeWidth":2},"encoding":{"x":{"field":"hour","type":"quantitative","scale":{"domain":[0,24],"nice":false,"zero":false},"axis":{"values":[0,6,12,18,24],"labels":false,"title":"Hour of the day"}},"y":{"field":"load","type":"quantitative","scale":{"domain":[0,0.8],"nice":false},"axis":{"values":[0,0.1,0.2,0.3,0.4,0.5,0.6,0.7,0.8],"labels":false,"title":null}},"color":{"field":"year","type":"nominal","scale":{"domain":["2011","2012"],"range":["#707070","#e53a30"]},"legend":{"title":null,"orient":"none","legendX":126,"legendY":11}}}},
{"width":396,"height":190,"view":{"stroke":null},"data":{"values":[{}]},"layer":[
 {"mark":{"type":"rect","fill":"#f0f0f0","stroke":"#6b6b6b","strokeWidth":1.5},"encoding":{"x":{"datum":-0.034,"type":"quantitative","scale":{"domain":[0,1],"nice":false,"zero":false},"axis":null},"x2":{"datum":1},"y":{"datum":-0.01,"type":"quantitative","scale":{"domain":[0,1],"nice":false,"zero":false},"axis":null},"y2":{"datum":1.0}}},
 {"mark":{"type":"text","font":"Liberation Sans","fontSize":37,"align":"left","baseline":"alphabetic","color":"#000000"},"encoding":{"x":{"datum":-0.0126,"type":"quantitative"},"y":{"datum":0.675,"type":"quantitative"},"text":{"value":"Thermal load type"}}},
 {"mark":{"type":"text","font":"Liberation Sans","fontSize":37,"align":"left","baseline":"alphabetic","color":"#000000"},"encoding":{"x":{"datum":-0.0126,"type":"quantitative"},"y":{"datum":0.43,"type":"quantitative"},"text":{"value":"shapes operation"}}},
 {"mark":{"type":"text","font":"Liberation Sans","fontSize":37,"align":"left","baseline":"alphabetic","color":"#000000"},"encoding":{"x":{"datum":-0.0126,"type":"quantitative"},"y":{"datum":0.2,"type":"quantitative"},"text":{"value":"profile"}}}
]},
{"title":{"text":"CHP-1","offset":-4},"width":278,"height":190,"data":{"name":"chp1"},"mark":{"type":"line","strokeWidth":2,"interpolate":"monotone"},"encoding":{"x":{"field":"hour","type":"quantitative","scale":{"domain":[0,24],"nice":false,"zero":false},"axis":{"values":[0,6,12,18,24],"title":"Hour of the day"}},"y":{"field":"load","type":"quantitative","scale":{"domain":[0,0.8],"nice":false},"axis":{"values":[0,0.1,0.2,0.3,0.4,0.5,0.6,0.7,0.8],"format":".1f","title":"Part load factor"}},"color":{"field":"year","type":"nominal","scale":{"domain":["2011","2012"],"range":["#707070","#e53a30"]},"legend":{"title":null,"orient":"none","legendX":126,"legendY":11}}}},
{"title":"CHP-2","width":278,"height":190,"layer":[
 {"data":{"name":"chp2"},"mark":{"type":"line","strokeWidth":2,"interpolate":"monotone"},"encoding":{"x":{"field":"hour","type":"quantitative","scale":{"domain":[0,24],"nice":false,"zero":false},"axis":{"values":[0,6,12,18,24],"title":"Hour of the day"}},"y":{"field":"load","type":"quantitative","scale":{"domain":[0,0.8],"nice":false},"axis":{"values":[0,0.1,0.2,0.3,0.4,0.5,0.6,0.7,0.8],"labels":false,"title":null}},"color":{"field":"year","type":"nominal","scale":{"domain":["2011","2012"],"range":["#707070","#e53a30"]},"legend":{"title":null,"orient":"none","legendX":126,"legendY":11}}}},
 {"data":{"values":[{}]},"mark":{"type":"rect","fill":"#ffffff","opacity":0.8},"encoding":{"x":{"datum":-14.76,"type":"quantitative"},"x2":{"datum":1.55},"y":{"datum":0.507,"type":"quantitative"},"y2":{"datum":0.726}}},
 {"data":{"values":[{}]},"mark":{"type":"text","font":"Liberation Sans","fontSize":41.5,"align":"center","baseline":"alphabetic","color":"#000000"},"encoding":{"x":{"datum":-6.75,"type":"quantitative"},"y":{"datum":0.589,"type":"quantitative"},"text":{"value":"CHP units"}}}
]},
{"width":278,"height":190,"view":{"stroke":null},"data":{"values":[]},"mark":"point"},
{"width":278,"height":190,"view":{"stroke":null},"data":{"values":[]},"mark":"point"},
{"width":396,"height":190,"view":{"stroke":null},"data":{"values":[{}]},"layer":[
 {"mark":{"type":"rect","fill":"#f0f0f0","stroke":"#6b6b6b","strokeWidth":1.5},"encoding":{"x":{"datum":-0.034,"type":"quantitative","scale":{"domain":[0,1],"nice":false,"zero":false},"axis":null},"x2":{"datum":1},"y":{"datum":0,"type":"quantitative","scale":{"domain":[0,1],"nice":false,"zero":false},"axis":null},"y2":{"datum":1.015}}},
 {"mark":{"type":"text","font":"Liberation Sans","fontSize":38,"align":"left","baseline":"alphabetic","color":"#000000"},"encoding":{"x":{"datum":-0.0126,"type":"quantitative"},"y":{"datum":0.672,"type":"quantitative"},"text":{"value":"Model-predictive"}}},
 {"mark":{"type":"text","font":"Liberation Sans","fontSize":38,"align":"left","baseline":"alphabetic","color":"#000000"},"encoding":{"x":{"datum":-0.0126,"type":"quantitative"},"y":{"datum":0.436,"type":"quantitative"},"text":{"value":"controllers follow EEX"}}},
 {"mark":{"type":"text","font":"Liberation Sans","fontSize":38,"align":"left","baseline":"alphabetic","color":"#000000"},"encoding":{"x":{"datum":-0.0126,"type":"quantitative"},"y":{"datum":0.2,"type":"quantitative"},"text":{"value":"market signal"}}}
]}
]
}
